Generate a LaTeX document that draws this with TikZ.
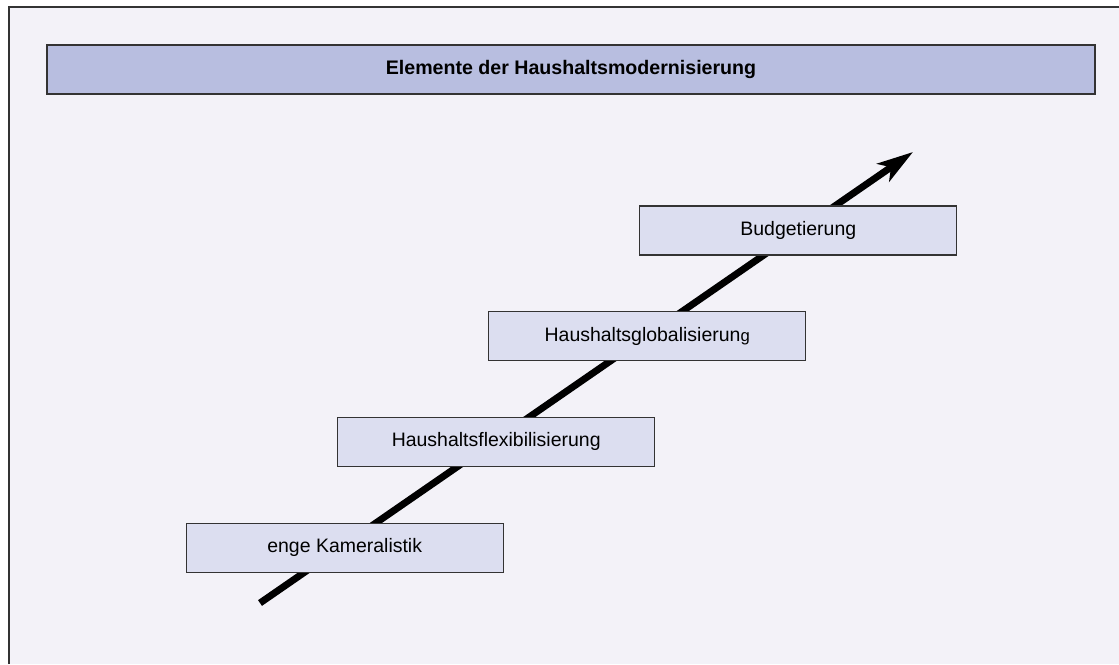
\documentclass[tikz,border=0pt]{standalone}
\usepackage{fontspec}
\setmainfont{Liberation Sans}
\usetikzlibrary{arrows.meta}
\definecolor{pagebg}{HTML}{F3F2F8}
\definecolor{titlefill}{HTML}{B8BEE0}
\definecolor{boxfill}{HTML}{DCDEF0}
\definecolor{edge}{HTML}{333333}
\tikzset{
  stagebox/.style={draw=edge, line width=0.9pt, fill=boxfill, minimum width=317*0.75pt,
    minimum height=49*0.75pt, inner sep=0pt, font=\fontsize{14.6}{17}\selectfont},
  titlebar/.style={draw=edge, line width=1.2pt, fill=titlefill, minimum width=1048*0.75pt,
    minimum height=49*0.75pt, inner sep=0pt, font=\bfseries\fontsize{14.7}{17}\selectfont},
  progress/.style={line width=5.2pt, -{Stealth[length=27pt,width=16pt,inset=7pt]}}
}
\begin{document}
\begin{tikzpicture}[x=0.75pt,y=-0.75pt]
  \useasboundingbox (0,0) rectangle (1119,664);
  % page area with frame on the left and top
  \fill[white] (0,0) rectangle (1119,664);
  \fill[pagebg] (9,7) rectangle (1119,664);
  \draw[edge, line width=1.2pt] (9,664) -- (9,7) -- (1119,7);

  % heading
  \node[titlebar] (title) at (571,69.5) {Elemente der Haushaltsmodernisierung};

  % arrow drawn behind the stage boxes
  \coordinate (start) at (260,603);
  \coordinate (end) at (913,152);
  \draw[progress] (start) -- (end);

  % stages
  \node[stagebox] (kam) at (344.7,547.8) {enge Kameralistik};
  \node[stagebox] (flex) at (496.2,441.7) {Haushaltsflexibilisierung};
  \node[stagebox] (glob) at (647.2,336.3) {Haushaltsglobalisierun{\fontsize{12.5}{14}\selectfont g}};
  \node[stagebox] (budg) at (798.3,230.5) {Budgetierung};
\end{tikzpicture}
\end{document}
